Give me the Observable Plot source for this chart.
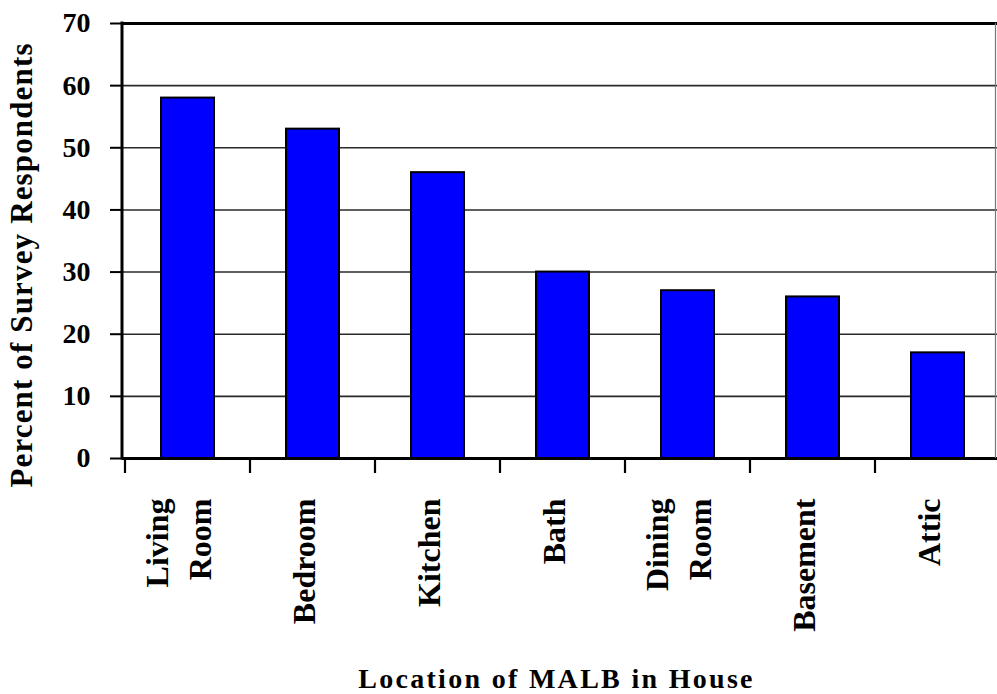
<!DOCTYPE html>
<html>
<head>
<meta charset="utf-8">
<script src="https://cdn.jsdelivr.net/npm/d3@7"></script>
<script src="https://cdn.jsdelivr.net/npm/@observablehq/plot@0.6"></script>
<style>
  html, body { margin: 0; padding: 0; background: #fff; overflow: hidden; }
  #chart svg { display: block; }
</style>
</head>
<body>
<div id="chart"></div>
<script>
// Where in the house the MALB was found, as a share of survey respondents
const locations = ["Living Room", "Bedroom", "Kitchen", "Bath", "Dining Room", "Basement", "Attic"];
const percents = [58, 53, 46, 30, 27, 26, 17];
const yTicks = [0, 10, 20, 30, 40, 50, 60, 70];
const yTitle = "Percent of Survey Respondents";
const xTitle = "Location of MALB in House";

const rows = locations.map((location, i) => ({location, percent: percents[i]}));

const serif = '"Liberation Serif", "Times New Roman", "DejaVu Serif", serif';
const innerPad = 0.58;

// Axis frame pieces that depend on the band layout: left axis line,
// tick marks between categories and the thin right border.
function frameLines(index, scales, values, dimensions) {
  const {width, height, marginLeft, marginTop, marginBottom} = dimensions;
  const x = scales.x;
  const step = x(locations[1]) - x(locations[0]);
  let bw = typeof x.bandwidth === "function" ? x.bandwidth() : x.bandwidth;
  if (!Number.isFinite(bw)) bw = step * (1 - innerPad);
  const offset = (step - bw) / 2;
  const bottom = height - marginBottom;
  const g = d3.create("svg:g");
  // category boundary ticks
  for (const loc of locations) {
    const bx = x(loc) - offset;
    g.append("line")
      .attr("x1", bx).attr("x2", bx)
      .attr("y1", bottom).attr("y2", bottom + 15)
      .attr("stroke", "#000").attr("stroke-width", 2.2);
  }
  // right border
  g.append("line")
    .attr("x1", width - 1.5).attr("x2", width - 1.5)
    .attr("y1", marginTop).attr("y2", bottom)
    .attr("stroke", "#777").attr("stroke-width", 1.2);
  // left axis line
  g.append("line")
    .attr("x1", marginLeft).attr("x2", marginLeft)
    .attr("y1", marginTop - 1.5).attr("y2", bottom + 1.5)
    .attr("stroke", "#000").attr("stroke-width", 3);
  return g.node();
}

const chart = Plot.plot({
  width: 997,
  height: 694,
  marginLeft: 122,
  marginTop: 23,
  marginBottom: 236,
  marginRight: -5,
  style: {fontFamily: serif, background: "#fff", color: "#000", overflow: "hidden"},
  x: {domain: locations, paddingInner: innerPad, paddingOuter: innerPad / 2, label: null},
  y: {domain: [0, 70], label: null},
  marks: [
    Plot.gridY(yTicks, {stroke: "#2a2a2a", strokeOpacity: 1, strokeWidth: 1.6}),
    Plot.ruleY([70], {stroke: "#000", strokeWidth: 3}),
    Plot.barY(rows, {x: "location", y: "percent", fill: "#0000ff", stroke: "#000", strokeWidth: 2}),
    Plot.ruleY([0], {stroke: "#000", strokeWidth: 3}),
    Plot.axisY({
      ticks: yTicks, tickSize: 12, tickPadding: 20, strokeWidth: 2,
      fontSize: 28, fontWeight: "bold", label: null
    }),
    Plot.axisX({
      tickSize: 0, tickPadding: 40, rotate: -90, textAnchor: "end", lineAnchor: "middle",
      fontSize: 32, fontWeight: "bold", lineHeight: 1.32, dx: -12,
      tickFormat: (d) => d.replace(" ", "\n"), label: null
    }),
    frameLines,
    Plot.text([yTitle], {
      frameAnchor: "left", rotate: -90, textAnchor: "middle", lineAnchor: "middle",
      dx: -100, dy: 24, fontSize: 31, fontWeight: "bold"
    }),
    Plot.text([xTitle], {
      frameAnchor: "bottom", textAnchor: "middle", lineAnchor: "bottom",
      dx: -6, dy: 229, fontSize: 28, fontWeight: "bold"
    })
  ]
});

// Wider letter spacing for the two axis titles
const spacing = new Map([[yTitle, "1.15px"], [xTitle, "2.3px"]]);
for (const t of chart.querySelectorAll("text")) {
  const s = spacing.get(t.textContent);
  if (s) t.style.letterSpacing = s;
}

document.getElementById("chart").append(chart);
</script>
</body>
</html>
